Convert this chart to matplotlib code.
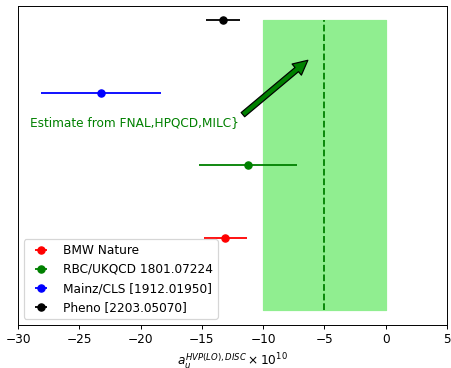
import matplotlib
matplotlib.use('Agg')
import matplotlib.pyplot as plt

# results (value, error) for a_mu HVP disconnected, in units of 1e-10
labels = ['BMW Nature', 'RBC/UKQCD 1801.07224', 'Mainz/CLS [1912.01950]', 'Pheno [2203.05070]']
values = [-13.1, -11.2, -23.2, -13.3]
errors = [1.75, 4.0, 4.9, 1.4]
colors = ['red', 'green', 'blue', 'black']
ypos = [1, 2, 3, 4]

# estimate band from FNAL,HPQCD,MILC
band_lo, band_hi = -10.0, 0.0
band_center = -5.0

DPI = 87
fig = plt.figure(figsize=(451 / DPI, 368 / DPI), dpi=DPI)
ax = fig.add_axes([0.040, 0.117, 0.951, 0.867])

ax.fill_betweenx([0, 4], band_lo, band_hi, color='lightgreen')
ax.vlines(band_center, 0, 4, colors='green', linestyles='--')

for lab, v, e, c, y in zip(labels, values, errors, colors, ypos):
    ax.errorbar(v, y, xerr=e, fmt='o', color=c, label=lab)

ax.annotate('', xy=(-6.35, 3.45), xytext=(-11.65, 2.7),
            arrowprops=dict(facecolor='green', edgecolor='black', width=4.5, headwidth=12, headlength=12))
ax.text(-29.0, 2.55, 'Estimate from FNAL,HPQCD,MILC}', color='green')

ax.set_xlim(-30, 5)
ax.set_yticks([])
ax.set_xlabel(r'$a_u^{HVP(LO),DISC} \times 10^{10}$')
ax.legend(loc='lower left')

plt.savefig('out.png', dpi=DPI)
